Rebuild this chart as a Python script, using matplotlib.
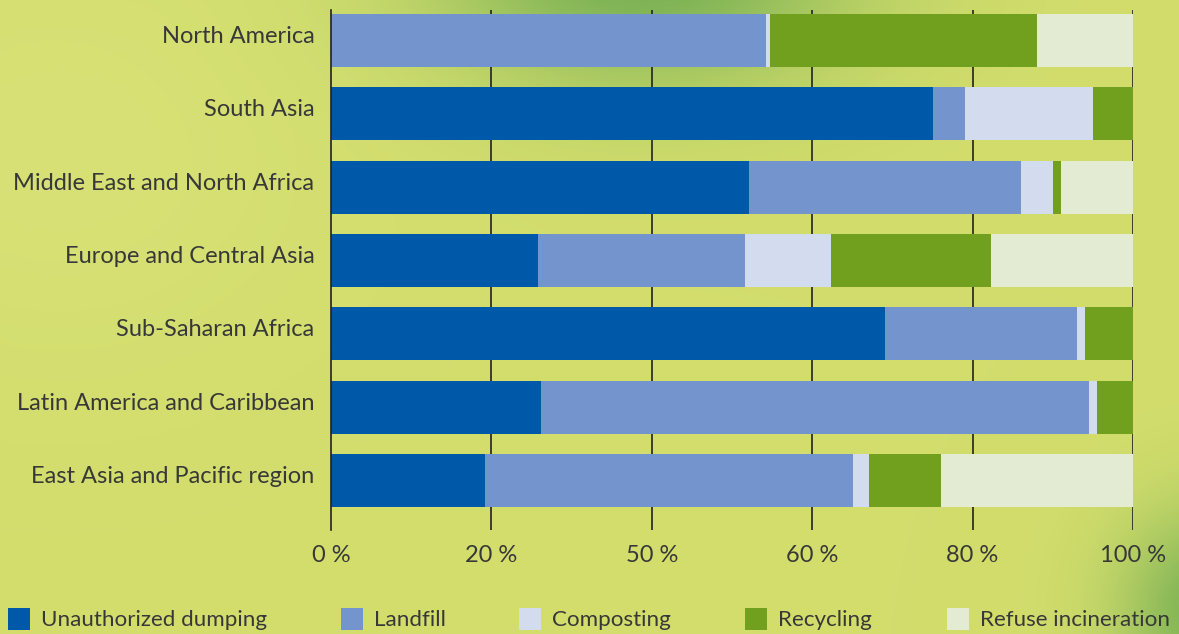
import numpy as np
import matplotlib
matplotlib.use("Agg")
import matplotlib.pyplot as plt
import matplotlib.transforms as mtransforms
from matplotlib.patches import Rectangle

plt.rcParams['font.family'] = ['Lato', 'DejaVu Sans']

regions = ["North America", "South Asia", "Middle East and North Africa",
           "Europe and Central Asia", "Sub-Saharan Africa",
           "Latin America and Caribbean", "East Asia and Pacific region"]
series = ["Unauthorized dumping", "Landfill", "Composting", "Recycling", "Refuse incineration"]
dumping      = [0.0, 75.0, 52.1, 25.8, 69.1, 26.2, 19.2]
landfill     = [54.2, 4.0, 33.9, 25.8, 23.9, 68.3, 45.9]
composting   = [0.5, 16.0, 4.0, 10.7, 1.0, 1.0, 2.0]
recycling    = [33.3, 5.0, 1.0, 20.0, 6.0, 4.5, 9.0]
incineration = [12.0, 0.0, 9.0, 17.7, 0.0, 0.0, 23.9]
tick_pos = [0, 20, 40, 60, 80, 100]
tick_labels = ["0 %", "20 %", "50 %", "60 %", "80 %", "100 %"]
colors = ["#0059A8", "#7394CC", "#D3DBEF", "#71A01E", "#E3EBD3"]
values = [dumping, landfill, composting, recycling, incineration]

TXT = "#383838"
FS = 17
LFS = 16.1

W, H = 1179, 634
fig = plt.figure(figsize=(W / 100, H / 100), dpi=100)

# background texture (smooth field)
bg_ax = fig.add_axes([0, 0, 1, 1], zorder=0)
yy, xx = np.mgrid[0:H, 0:W]
base = np.array([210, 221, 108], dtype=float)
dark = np.array([120, 176, 84], dtype=float)
img = np.ones((H, W, 3)) * base
def blob(cx, cy, sx, sy, s):
    return s * np.exp(-(((xx - cx) / sx) ** 2 + ((yy - cy) / sy) ** 2))
w = blob(640, -30, 210, 120, 1.0) + blob(1210, 610, 90, 100, 0.95)
w = np.clip(w, 0, 1)[..., None]
light = blob(60, 150, 320, 260, 0.4)[..., None]
img = img * (1 - w) + dark * w
img = img * (1 - light) + np.array([222, 230, 130]) * light
bg_ax.imshow(img.astype(np.uint8) / 255.0, extent=[0, W, H, 0], aspect='auto')
bg_ax.set_xlim(0, W)
bg_ax.set_ylim(H, 0)
bg_ax.axis('off')

# legend drawn in pixel space
leg_x = [8, 341, 519, 745, 947]
for x0, name, c in zip(leg_x, series, colors):
    bg_ax.add_patch(Rectangle((x0, 608), 22, 22, facecolor=c, edgecolor='none'))
    bg_ax.text(x0 + 33, 620, name, fontsize=LFS, color=TXT,
               va='center', ha='left')

ax = fig.add_axes([331 / W, 1 - 530 / H, (1133 - 331) / W, 520 / H], zorder=1)
ax.patch.set_alpha(0)
y = np.arange(len(regions))
left = np.zeros(len(regions))
for vals, c, name in zip(values, colors, series):
    ax.barh(y, vals, left=left, height=0.723, color=c, label=name, zorder=3)
    left += np.array(vals)

ax.set_xlim(0, 100)
ax.set_ylim(6.675, -0.416)
ax.set_yticks(y)
ax.set_yticklabels(regions)
ax.set_xticks(tick_pos)
ax.set_xticklabels(tick_labels)
ax.tick_params(axis='both', length=0, labelsize=FS, labelcolor=TXT)
ax.tick_params(axis='y', pad=12)
ax.tick_params(axis='x', pad=11)
off = mtransforms.ScaledTranslation(0, 0.06, fig.dpi_scale_trans)
for lab in ax.get_yticklabels():
    lab.set_transform(lab.get_transform() + off)
for x in tick_pos[1:]:
    ax.axvline(x, color="#222222", lw=1.2, zorder=2)
for s in ['top', 'right', 'bottom']:
    ax.spines[s].set_visible(False)
ax.spines['left'].set_color("#222222")
ax.spines['left'].set_linewidth(1.2)
ax.spines['left'].set_zorder(4)

fig.savefig("out.png", dpi=100)
